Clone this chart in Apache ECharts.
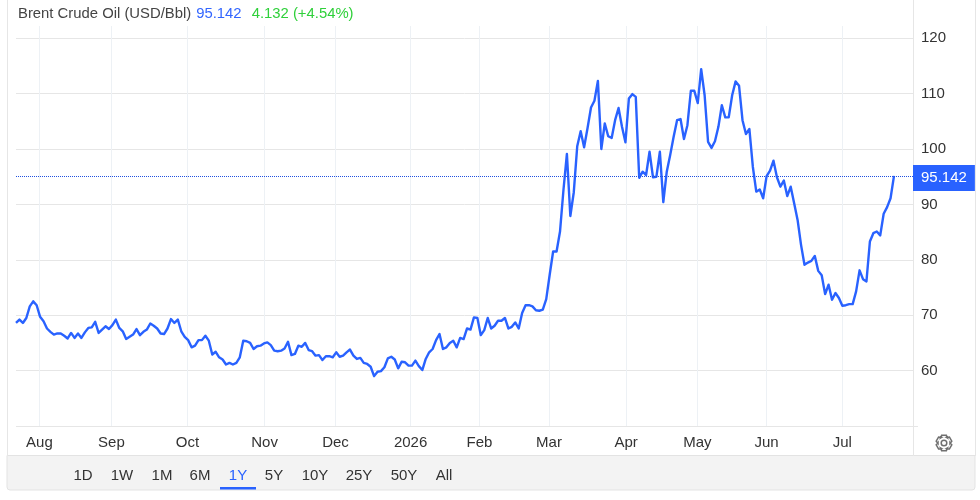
<!DOCTYPE html>
<html><head><meta charset="utf-8">
<style>html,body{margin:0;padding:0;background:#fff}#c{width:980px;height:500px}</style>
<script src="https://cdn.jsdelivr.net/npm/echarts@6/dist/echarts.min.js"></script>
</head><body><div id="c"></div>
<script>
// Brent daily close, USD/Bbl, Jul 2025 - Jul 2026 (one value per trading session)
const julSep2025 = [68.6,69.2,68.6,69.5,71.6,72.5,71.8,69.7,68.9,67.6,67.0,66.5,66.7,66.7,66.3,65.8,66.8,65.9,66.7,65.9,66.9,67.7,67.8,68.8,66.8,67.4,68.0,67.5,68.2,69.2,67.7,67.1,65.7,66.1,66.5,67.5,66.4,67.0,67.4,68.5,68.1,67.6,66.7,66.6,67.6,69.3,68.6,69.2,67.1,66.1,65.5,64.2,64.5,65.5,65.5,66.3,65.4,62.9,63.4,62.4,62.0,61.1,61.4,61.1,61.4,62.4,65.4,65.3,65.0];
const octJan = [63.9,64.4,64.5,64.9,65.1,64.6,63.6,63.5,63.6,64.0,65.2,62.8,63.0,64.5,64.3,65.0,63.7,63.5,62.7,62.8,61.9,62.6,62.6,62.4,63.3,62.5,62.7,63.3,63.8,62.7,62.1,62.3,61.4,61.2,60.7,59.0,59.8,59.9,60.6,62.2,62.5,62.0,60.4,61.6,61.5,60.9,60.9,61.8,60.8,60.1,62.1,63.3,63.9,65.5,66.6,63.9,64.2,65.0,65.4,64.2,65.9,65.7,67.6,67.4,69.6,69.5,66.4,67.3,69.5,67.6,68.1,69.0];
const febMay = [69.0,69.5,67.6,67.9,68.7,67.6,70.4,71.8,71.8,71.6,70.9,70.8,71.0,72.9,77.3,81.5,81.5,85.1,92.6,99.1,87.9,92.2,100.5,103.2,100.3,103.8,107.5,108.7,112.3,100.0,104.6,102.3,102.0,105.2,107.4,104.0,101.2,109.1,109.9,109.4,94.8,95.9,95.3,99.5,94.9,95.0,99.5,90.4,95.9,98.9,102.2,105.2,105.4,101.8,104.3,110.5,110.5,108.3,114.4,109.7,101.3];
const mayJul2026 = [100.2,101.4,104.0,107.9,105.7,105.7,109.7,112.2,111.4,105.2,102.7,103.6,96.8,92.3,92.7,91.1,95.1,96.1,97.9,94.9,93.2,94.3,91.5,93.2,90.2,87.2,82.7,79.1,79.5,79.8,80.7,78.0,77.2,73.8,75.5,72.8,74.0,73.1,71.7,71.8,72.0,72.0,74.3,78.1,76.5,76.1,83.3,84.8,85.1,84.4,88.3,89.5,91.1,95.142];
const prices = [...julSep2025, ...octJan, ...febMay, ...mayJul2026];

const monthLabels = ['Aug','Sep','Oct','Nov','Dec','2026','Feb','Mar','Apr','May','Jun','Jul'];
const monthSessions = [6.8,27.7,49.8,72.2,92.8,114.6,134.6,154.8,177.2,197.9,218,240];
const priceTicks = [60,70,80,90,100,110,120];
const rangeButtons = ['1D','1W','1M','6M','1Y','5Y','10Y','25Y','50Y','All'];
const lastPrice = 95.142;

const BLUE = '#2962ff', GRID = '#e6e6e6', VGRID = '#edf1f5', TXT = '#333333';
const FONT = '"Liberation Sans", Arial, sans-serif';
const chart = echarts.init(document.getElementById('c'), null, {renderer:'canvas'});

const btnX = [83,122,162,200,238,274,315,359,404,444];
const line = (x1,y1,x2,y2,c) => ({type:'line',silent:true,shape:{x1,y1,x2,y2},style:{stroke:c,lineWidth:1}});
function gearPoints(cx,cy){
  const out=[]; const R=8, r=6, n=6;
  for(let i=0;i<n;i++){
    const a=i*2*Math.PI/n-Math.PI/2, w=0.30, g=0.62;
    [[r,a-g],[R,a-w],[R,a+w],[r,a+g]].forEach(p=>out.push([cx+p[0]*Math.cos(p[1]),cy+p[0]*Math.sin(p[1])]));
  }
  return out;
}
const graphic = [
  {type:'rect',silent:true,z:-1,shape:{x:7,y:455.5,width:968,height:34.5,r:[0,0,3,3]},style:{fill:'#f3f3f3',stroke:'#e3e3e3',lineWidth:1}},
  line(7.5,0,7.5,456,GRID),
  line(975.5,0,975.5,456,GRID),
  line(913.5,0,913.5,456,GRID),
  line(16,426.5,918,426.5,GRID),
  {type:'rect',silent:true,shape:{x:220,y:487,width:36,height:2.5},style:{fill:BLUE}},
  {type:'polygon',silent:true,shape:{points:gearPoints(944,443)},style:{fill:'none',stroke:'#707070',lineWidth:1.5}},
  {type:'circle',silent:true,shape:{cx:944,cy:443,r:2.8},style:{fill:'none',stroke:'#707070',lineWidth:1.5}}
];
rangeButtons.forEach((b,i)=>graphic.push({type:'text',silent:true,x:btnX[i],y:476,style:{text:b,fill:b==='1Y'?BLUE:TXT,font:'15px '+FONT,textAlign:'center',textVerticalAlign:'middle'}}));

chart.setOption({
  animation:false,
  backgroundColor:'#fff',
  title:{left:18,top:5,padding:0,
    text:'{a|Brent Crude Oil (USD/Bbl)} {b|95.142}  {c|4.132 (+4.54%)}',
    textStyle:{fontWeight:'normal',rich:{
      a:{fontFamily:FONT,fontSize:14.85,fontWeight:'normal',color:'#444444'},
      b:{fontFamily:FONT,fontSize:14.85,fontWeight:'normal',color:'#3366ff'},
      c:{fontFamily:FONT,fontSize:14.85,fontWeight:'normal',color:'#2fd03a'}}}},
  grid:{left:16,right:67,top:26,bottom:74,containLabel:false},
  xAxis:{type:'value',min:0,max:255*897/878,
    axisLine:{show:false},
    axisTick:{show:false,customValues:monthSessions},
    axisLabel:{customValues:monthSessions,margin:9,color:TXT,fontFamily:FONT,fontSize:15,hideOverlap:false,showMinLabel:true,showMaxLabel:true,
      formatter:v=>monthLabels[monthSessions.indexOf(v)]||''},
    splitLine:{show:true,lineStyle:{color:VGRID,width:1}}},
  yAxis:{type:'value',position:'right',min:50,max:122.2,
    axisLine:{show:false},
    axisTick:{show:true,length:4,customValues:priceTicks,lineStyle:{color:GRID,width:1}},
    axisLabel:{customValues:priceTicks,margin:8,color:TXT,fontFamily:FONT,fontSize:15},
    splitLine:{show:true,lineStyle:{color:GRID,width:1}}},
  series:[{type:'line',data:prices.map((v,i)=>[i,v]),symbol:'none',smooth:false,clip:false,
    lineStyle:{color:BLUE,width:2.4,join:'round'},
    markLine:{silent:true,symbol:'none',animation:false,
      lineStyle:{type:[1,1],color:'#2050e0',width:1},
      data:[{yAxis:lastPrice}],
      label:{show:true,position:'end',distance:0,formatter:'95.142',color:'#fff',backgroundColor:BLUE,
        fontFamily:FONT,fontSize:15,padding:[6,8,5,8],offset:[0,2]}}}],
  graphic
});
</script></body></html>
